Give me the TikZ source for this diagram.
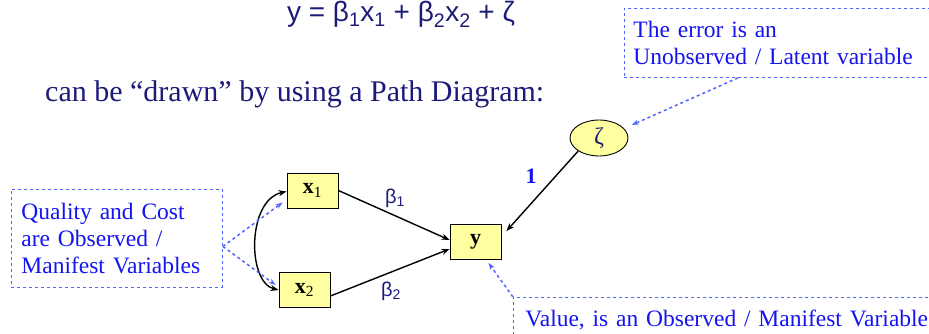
\documentclass[tikz,border=0pt]{standalone}
\usepackage{fontspec}
\setmainfont{Liberation Serif}
\newfontfamily\eqfont{Liberation Sans}
\usetikzlibrary{arrows.meta,shapes.geometric}
\definecolor{navy}{RGB}{28,28,120}
\definecolor{noteblue}{RGB}{20,20,240}
\definecolor{dashblue}{RGB}{80,100,255}
\definecolor{boxyellow}{RGB}{255,255,160}
\begin{document}
\begin{tikzpicture}[x=1pt,y=-1pt,
  varbox/.style={draw=black,line width=0.9pt,fill=boxyellow,minimum width=51pt,minimum height=35pt,inner sep=0pt,
     font=\fontsize{22}{22}\selectfont},
  note/.style={draw=dashblue,dashed,line width=0.9pt,text=noteblue,align=left,anchor=north west,
     font=\fontsize{23.5}{27}\selectfont},
  noteline/.style={draw=dashblue,dashed,line width=1.5pt,-{Stealth[length=7pt,width=5pt]}},
  path/.style={draw=black,line width=1.4pt,-{Stealth[length=8pt,width=6pt]}},
  coef/.style={text=navy,font=\eqfont\fontsize{20}{20}\selectfont},
]
\useasboundingbox (0,0) rectangle (929,334);

% title lines
\node[text=navy,font=\eqfont\fontsize{28}{28}\selectfont,anchor=base,inner sep=0pt] (eq) at (401,22)
  {y = β\textsubscript{1}x\textsubscript{1} + β\textsubscript{2}x\textsubscript{2} + ζ};
\node[text=navy,font=\fontsize{30}{30}\selectfont,anchor=base west,inner sep=0pt] (sub) at (45,102)
  {can be “drawn” by using a Path Diagram:};

% variables
\node[varbox] (x1) at (312.5,190.5) {\textbf{x}\textsubscript{1}};
\node[varbox] (x2) at (304.5,290) {\textbf{x}\textsubscript{2}};
\node[varbox] (y) at (475.5,242) {\textbf{y}};
\node[draw=black,line width=0.9pt,fill=boxyellow,ellipse,minimum width=58pt,minimum height=36pt,inner sep=0pt,
      text=navy,font=\fontsize{24}{24}\selectfont] (zeta) at (599,138) {ζ};

% paths
\draw[path] (x1.east) -- ([yshift=2pt]y.west);
\draw[path] ([yshift=-6pt]x2.east) -- ([yshift=-7pt]y.west);
\draw[path] (zeta.south west) -- ([xshift=5pt,yshift=-7pt]y.north east);
\draw[line width=1.4pt,{Stealth[length=8pt,width=6pt]}-{Stealth[length=8pt,width=6pt]}]
  ([yshift=-1pt]x1.west) .. controls (247,200) and (247,282) .. (x2.west);

\node[coef] (b1) at (395,198) {β\textsubscript{1}};
\node[coef] (b2) at (391,291) {β\textsubscript{2}};
\node[text=noteblue,font=\bfseries\fontsize{22}{22}\selectfont] (one) at (531,176) {1};

% notes
\node[note,text width=191pt,inner xsep=10pt,minimum height=98pt] (obsnote) at (11,189)
  {Quality and Cost\\are Observed /\\Manifest Variables};
\node[note,text width=293pt,inner xsep=9pt,minimum height=69pt] (errnote) at (624,8)
  {The error is an\\Unobserved / Latent variable};
\node[note,text width=410pt,inner xsep=12pt,minimum height=45pt] (ynote) at (513,297)
  {Value, is an Observed / Manifest Variable};

\draw[noteline] ([yshift=-8pt]obsnote.east) -- ([xshift=-4pt,yshift=-12pt]x1.west);
\draw[noteline] ([yshift=-8pt]obsnote.east) -- ([xshift=-3pt,yshift=5pt]x2.west);
\draw[noteline] ([xshift=-42pt]errnote.south) -- ([xshift=12pt]zeta.north east);
\draw[noteline] (ynote.north west) -- ([xshift=-13pt,yshift=-3pt]y.south east);
\end{tikzpicture}
\end{document}
